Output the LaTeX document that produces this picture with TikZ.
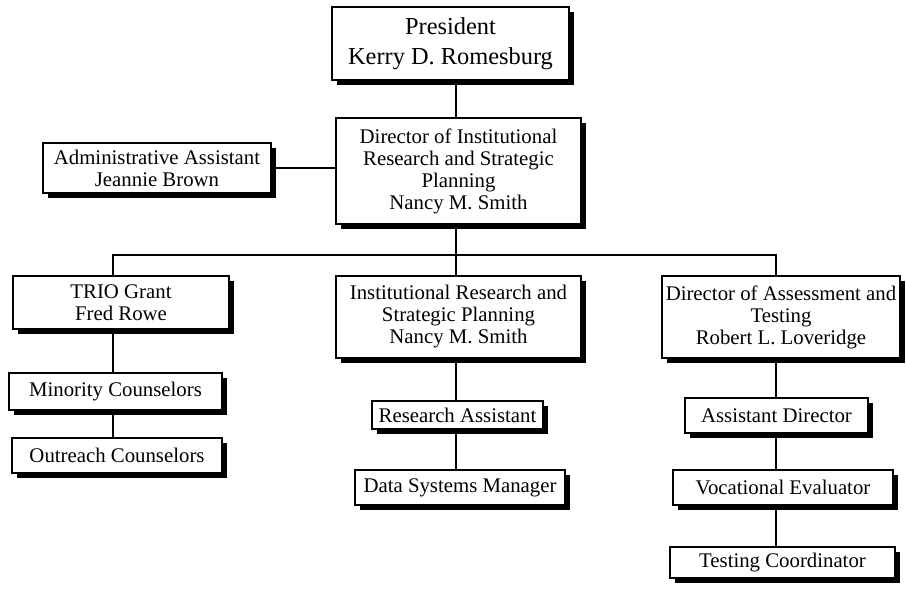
\documentclass[tikz,border=0pt]{standalone}
\usepackage{fontspec}
\setmainfont{Liberation Serif}
\usetikzlibrary{shadows}
\begin{document}
\begin{tikzpicture}[x=0.75pt,y=-0.75pt,
  box/.style={draw=black,line width=1pt,fill=white,align=center,inner sep=0pt,
    font=\fontsize{15.6}{16.5}\selectfont,
    drop shadow={shadow xshift=3.75pt,shadow yshift=-3.75pt,fill=black,opacity=1}},
  link/.style={line width=1.4pt}]
\useasboundingbox (0,0) rectangle (906,591);
\node[box,minimum width=177.75pt,minimum height=54.75pt,font=\fontsize{18.3}{22.5}\selectfont] (pres) at (450.5,43.5) {President\\Kerry D. Romesburg};
\node[box,minimum width=183.75pt,minimum height=79.5pt] (dir) at (458.5,171) {Director of Institutional\\Research and Strategic\\Planning\\Nancy M. Smith};
\node[box,minimum width=171pt,minimum height=37.5pt] (adm) at (157,168) {Administrative Assistant\\Jeannie Brown};
\node[box,minimum width=162pt,minimum height=39.75pt] (trio) at (121,302.5) {TRIO Grant\\Fred Rowe};
\node[box,minimum width=183.75pt,minimum height=61.5pt] (irsp) at (458.5,317) {Institutional Research and\\Strategic Planning\\Nancy M. Smith};
\node[box,minimum width=178.5pt,minimum height=61.5pt] (dat) at (781,317) {Director of Assessment and\\Testing\\Robert L. Loveridge};
\node[box,minimum width=159.75pt,minimum height=27.75pt] (min) at (115.5,391.5) {Minority Counselors};
\node[box,minimum width=157.5pt,minimum height=26.25pt] (out) at (117,455.5) {Outreach Counselors};
\node[box,minimum width=128.25pt,minimum height=21pt] (ra) at (457.5,415) {Research Assistant};
\node[box,minimum width=157.5pt,minimum height=26.25pt] (dsm) at (460,487.5) {Data Systems Manager};
\node[box,minimum width=137.25pt,minimum height=26.25pt] (ad) at (776.5,415.5) {Assistant Director};
\node[box,minimum width=165pt,minimum height=26.25pt] (ve) at (783,487.5) {Vocational Evaluator};
\node[box,minimum width=168.75pt,minimum height=23.25pt] (tc) at (782.5,562.5) {Testing Coordinator};
\coordinate (lx) at (113,0);
\coordinate (mx) at (456,0);
\coordinate (rx) at (776,0);
\coordinate (bus) at (456,255);
\draw[link] (pres.south -| mx) -- (dir.north -| mx);
\draw[link] (adm.east) -- (adm.east -| dir.west);
\draw[link] (dir.south -| mx) -- (bus);
\draw[link] (trio.north -| lx) -- (lx |- bus) -- (rx |- bus) -- (dat.north -| rx);
\draw[link] (bus) -- (irsp.north -| mx);
\draw[link] (trio.south -| lx) -- (min.north -| lx);
\draw[link] (min.south -| lx) -- (out.north -| lx);
\draw[link] (irsp.south -| mx) -- (ra.north -| mx);
\draw[link] (ra.south -| mx) -- (dsm.north -| mx);
\draw[link] (dat.south -| rx) -- (ad.north -| rx);
\draw[link] (ad.south -| rx) -- (ve.north -| rx);
\draw[link] (ve.south -| rx) -- (tc.north -| rx);
\end{tikzpicture}
\end{document}
